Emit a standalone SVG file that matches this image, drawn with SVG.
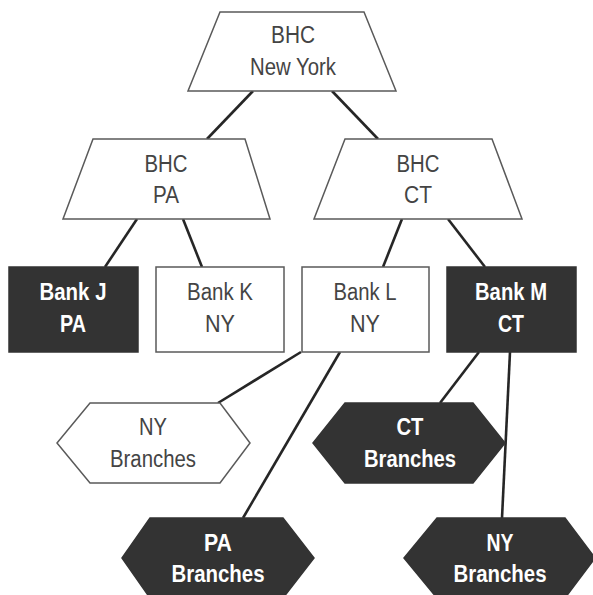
<svg xmlns="http://www.w3.org/2000/svg" width="593" height="595" viewBox="0 0 593 595">
<style>
.light{fill:#ffffff;stroke:#5a5a5a;stroke-width:1.5}
.dark{fill:#333333;stroke:#333333;stroke-width:1.5}
.t{font-family:"Liberation Sans",Arial,sans-serif;font-size:23px;fill:#444444;text-anchor:middle}
.tb{font-family:"Liberation Sans",Arial,sans-serif;font-size:23px;font-weight:bold;fill:#ffffff;text-anchor:middle}
.c line{stroke:#262626;stroke-width:2.6;stroke-linecap:butt}
</style>
<rect width="593" height="595" fill="#ffffff"/>
<g class="c" id="connectors">
<line x1="253" y1="91" x2="207" y2="139"/>
<line x1="332" y1="91" x2="378" y2="139"/>
<line x1="137" y1="219" x2="105" y2="267"/>
<line x1="183" y1="219" x2="202" y2="267"/>
<line x1="402" y1="219" x2="383" y2="267"/>
<line x1="448" y1="219" x2="485" y2="267"/>
<line x1="301" y1="352" x2="218" y2="403"/>
<line x1="340" y1="352" x2="243" y2="518"/>
<line x1="479" y1="352" x2="440" y2="403"/>
<line x1="510" y1="352" x2="502" y2="518"/>
</g>
<g id="bhc-ny">
<polygon class="light" points="220,12 364,12 396,91 188,91"/>
<text class="t" x="293" y="43" textLength="44" lengthAdjust="spacingAndGlyphs">BHC</text>
<text class="t" x="293" y="75" textLength="86" lengthAdjust="spacingAndGlyphs">New York</text>
</g>
<g id="bhc-pa">
<polygon class="light" points="93,139 245,139 270,219 63,219"/>
<text class="t" x="166" y="172" textLength="43" lengthAdjust="spacingAndGlyphs">BHC</text>
<text class="t" x="166" y="203" textLength="26" lengthAdjust="spacingAndGlyphs">PA</text>
</g>
<g id="bhc-ct">
<polygon class="light" points="345,139 492,139 522,219 314,219"/>
<text class="t" x="418" y="172" textLength="43" lengthAdjust="spacingAndGlyphs">BHC</text>
<text class="t" x="418" y="203" textLength="28" lengthAdjust="spacingAndGlyphs">CT</text>
</g>
<g id="bank-j">
<rect class="dark" x="9" y="267" width="129" height="85"/>
<text class="tb" x="73" y="300" textLength="67" lengthAdjust="spacingAndGlyphs">Bank J</text>
<text class="tb" x="73" y="332" textLength="26" lengthAdjust="spacingAndGlyphs">PA</text>
</g>
<g id="bank-k">
<rect class="light" x="156" y="267" width="128" height="85"/>
<text class="t" x="220" y="300" textLength="66" lengthAdjust="spacingAndGlyphs">Bank K</text>
<text class="t" x="220" y="332" textLength="30" lengthAdjust="spacingAndGlyphs">NY</text>
</g>
<g id="bank-l">
<rect class="light" x="302" y="267" width="127" height="85"/>
<text class="t" x="365" y="300" textLength="63" lengthAdjust="spacingAndGlyphs">Bank L</text>
<text class="t" x="365" y="332" textLength="30" lengthAdjust="spacingAndGlyphs">NY</text>
</g>
<g id="bank-m">
<rect class="dark" x="447" y="267" width="129" height="85"/>
<text class="tb" x="511" y="300" textLength="72" lengthAdjust="spacingAndGlyphs">Bank M</text>
<text class="tb" x="511" y="332" textLength="26" lengthAdjust="spacingAndGlyphs">CT</text>
</g>
<g id="ny-branches-l">
<polygon class="light" points="90,403 220,403 250,443 220,483 90,483 57,443"/>
<text class="t" x="153" y="435" textLength="28" lengthAdjust="spacingAndGlyphs">NY</text>
<text class="t" x="153" y="467" textLength="86" lengthAdjust="spacingAndGlyphs">Branches</text>
</g>
<g id="ct-branches">
<polygon class="dark" points="345,403 473,403 505,443 473,483 345,483 313,443"/>
<text class="tb" x="410" y="435" textLength="27" lengthAdjust="spacingAndGlyphs">CT</text>
<text class="tb" x="410" y="467" textLength="92" lengthAdjust="spacingAndGlyphs">Branches</text>
</g>
<g id="pa-branches">
<polygon class="dark" points="150,518 283,518 314,558 283,598 150,598 122,558"/>
<text class="tb" x="218" y="551" textLength="28" lengthAdjust="spacingAndGlyphs">PA</text>
<text class="tb" x="218" y="582" textLength="93" lengthAdjust="spacingAndGlyphs">Branches</text>
</g>
<g id="ny-branches-m">
<polygon class="dark" points="437,518 565,518 595,558 565,598 437,598 404,558"/>
<text class="tb" x="500" y="551" textLength="27" lengthAdjust="spacingAndGlyphs">NY</text>
<text class="tb" x="500" y="582" textLength="93" lengthAdjust="spacingAndGlyphs">Branches</text>
</g>
</svg>
